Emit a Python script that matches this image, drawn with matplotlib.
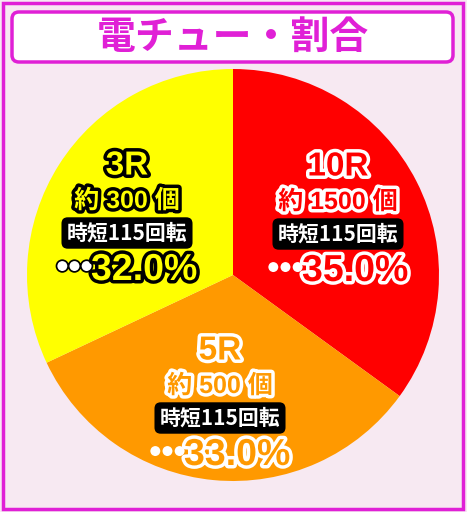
import matplotlib.pyplot as plt
import matplotlib.patheffects as pe
from matplotlib.patches import Rectangle, FancyBboxPatch

plt.rcParams['font.family'] = ['Liberation Sans', 'Noto Sans CJK JP', 'DejaVu Sans']

# data
title = '電チュー・割合'
rounds = ['10R', '5R', '3R']
payouts = ['約 1500 個', '約 500 個', '約 300 個']
jitan = ['時短115回転', '時短115回転', '時短115回転']
shares = [35.0, 33.0, 32.0]

colors = ['#ff0000', '#ff9900', '#ffff00']
outline = ['white', 'white', 'black']
# label anchor (x, top y) in pixels for each slice
label_pos = [(338, 167), (220, 351), (127, 166)]

W, H = 467, 512
fig = plt.figure(figsize=(W / 100, H / 100), dpi=100)
ax = fig.add_axes([0, 0, 1, 1])

bg = '#f7e9f2'
mag = '#e020d6'
fig.patch.set_facecolor(bg)

wedges, _ = ax.pie(shares, colors=colors, startangle=90, counterclock=False,
                   center=(233, H - 275), radius=206, frame=True)
ax.set_xlim(0, W)
ax.set_ylim(0, H)
ax.set_aspect('equal')
ax.axis('off')
for w in wedges:
    w.set_zorder(1)

ax.add_patch(Rectangle((3, 3), W - 7, H - 6, fc=bg, ec=mag, lw=2.5, zorder=0))

# title box
ax.add_patch(FancyBboxPatch((12, H - 62), 441, 50, boxstyle='round,pad=0,rounding_size=7',
                            fc='white', ec=mag, lw=2.5, zorder=1))
ax.text(233, H - 37, title, color=mag, fontsize=28, fontweight='bold',
        family=['Noto Sans CJK JP'], ha='center', va='center', zorder=2)

for i in range(len(rounds)):
    x, y = label_pos[i]
    y = H - y
    stroke = [pe.withStroke(linewidth=5, foreground=outline[i])]
    ax.text(x, y, rounds[i], color=colors[i], fontsize=24, fontweight='bold',
            ha='center', va='center', path_effects=stroke, zorder=3)
    ax.text(x, y - 35, payouts[i], color=colors[i], fontsize=18, fontweight='bold',
            ha='center', va='center', path_effects=stroke, zorder=3)
    ax.text(x, y - 67, jitan[i], color='white', fontsize=15, fontweight='bold',
            family=['Noto Sans CJK JP'], ha='center', va='center', zorder=3,
            bbox=dict(boxstyle='round,pad=0.25,rounding_size=0.3', fc='black', ec='none'))
    dot_edge = colors[i] if outline[i] == 'white' else 'black'
    ax.text(x - 34, y - 102, '•••', color='white', fontsize=25, fontweight='bold',
            ha='right', va='center',
            path_effects=[pe.withStroke(linewidth=2.5, foreground=dot_edge)], zorder=3)
    ax.text(x - 36, y - 104, f'{shares[i]:.1f}%', color=colors[i], fontsize=27,
            fontweight='bold', ha='left', va='center', path_effects=stroke, zorder=3)

fig.savefig('out.png', dpi=100, facecolor=bg)
